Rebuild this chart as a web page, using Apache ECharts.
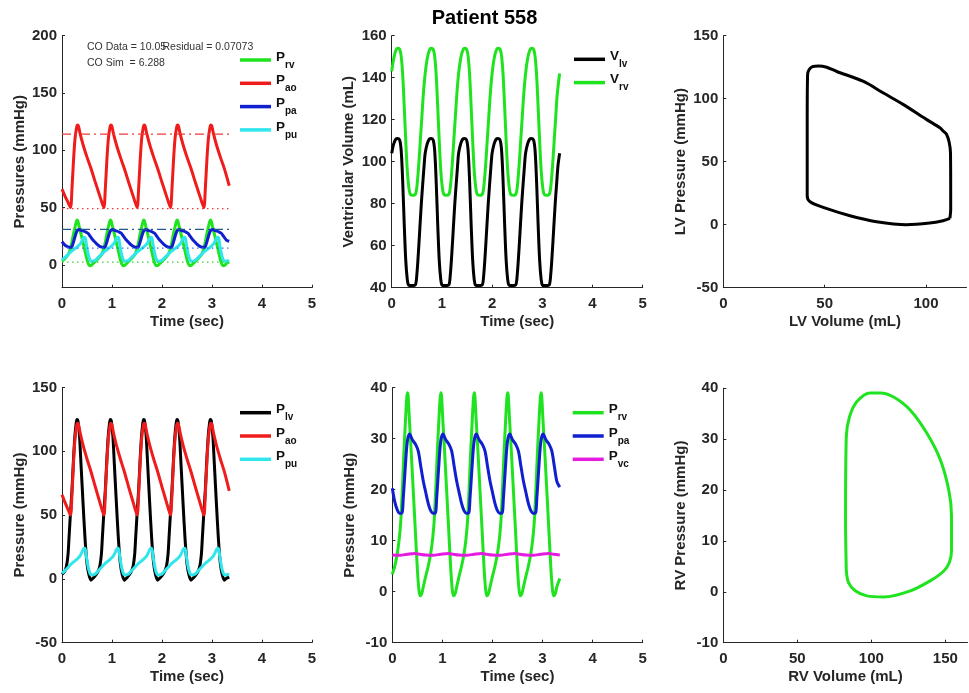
<!DOCTYPE html>
<html><head><meta charset="utf-8">
<script src="https://cdn.jsdelivr.net/npm/echarts@6/dist/echarts.min.js"></script>
<style>html,body{margin:0;padding:0;background:#fff}#c{width:969px;height:693px}</style>
</head><body><div id="c"></div>
<script>
// ---------- DATA (time in s, pressure mmHg, volume mL) ----------
const P_ao = [[0,66],[0.06,60],[0.12,54.5],[0.17,50],[0.2,67],[0.23,91],[0.26,110],[0.29,119.5],[0.31,122],[0.33,121],[0.36,115],[0.42,105],[0.5,94],[0.58,84],
[0.667,72],[0.727,64],[0.787,56],[0.837,50],[0.867,67],[0.897,91],[0.927,110],[0.957,119.5],[0.977,122],[0.997,121],[1.027,115],[1.087,105],[1.167,94],[1.247,84],
[1.333,72],[1.393,64],[1.453,56],[1.503,50],[1.533,67],[1.563,91],[1.593,110],[1.623,119.5],[1.643,122],[1.663,121],[1.693,115],[1.753,105],[1.833,94],[1.913,84],
[2,72],[2.06,64],[2.12,56],[2.17,50],[2.2,67],[2.23,91],[2.26,110],[2.29,119.5],[2.31,122],[2.33,121],[2.36,115],[2.42,105],[2.5,94],[2.58,84],
[2.667,72],[2.727,64],[2.787,56],[2.837,50],[2.867,67],[2.897,91],[2.927,110],[2.957,119.5],[2.977,122],[2.997,121],[3.027,115],[3.087,105],[3.167,94],[3.247,84],[3.345,69]];

const P_lv = [[0,3.5],[0.05,5.5],[0.09,10],[0.12,19],[0.14,32],[0.17,52],[0.2,70],[0.23,94],[0.26,113],[0.285,122.5],[0.3,125],[0.32,123.5],[0.35,112],[0.38,90],[0.42,60],[0.46,32],[0.5,12],[0.54,3],[0.58,-1],[0.62,0.5],
[0.667,2.5],[0.717,5.5],[0.757,10],[0.787,19],[0.807,32],[0.837,52],[0.867,70],[0.897,94],[0.927,113],[0.952,122.5],[0.967,125],[0.987,123.5],[1.017,112],[1.047,90],[1.087,60],[1.127,32],[1.167,12],[1.207,3],[1.247,-1],[1.287,0.5],
[1.333,2.5],[1.383,5.5],[1.423,10],[1.453,19],[1.473,32],[1.503,52],[1.533,70],[1.563,94],[1.593,113],[1.618,122.5],[1.633,125],[1.653,123.5],[1.683,112],[1.713,90],[1.753,60],[1.793,32],[1.833,12],[1.873,3],[1.913,-1],[1.953,0.5],
[2,2.5],[2.05,5.5],[2.09,10],[2.12,19],[2.14,32],[2.17,52],[2.2,70],[2.23,94],[2.26,113],[2.285,122.5],[2.3,125],[2.32,123.5],[2.35,112],[2.38,90],[2.42,60],[2.46,32],[2.5,12],[2.54,3],[2.58,-1],[2.62,0.5],
[2.667,2.5],[2.717,5.5],[2.757,10],[2.787,19],[2.807,32],[2.837,52],[2.867,70],[2.897,94],[2.927,113],[2.952,122.5],[2.967,125],[2.987,123.5],[3.017,112],[3.047,90],[3.087,60],[3.127,32],[3.167,12],[3.207,3],[3.247,-1],[3.287,0.5],[3.345,1.5]];

const P_pu = [[0,4.4],[0.06,6.5],[0.12,9],[0.18,11.5],[0.24,13.5],[0.3,15.5],[0.36,18],[0.4,21],[0.43,23.5],[0.46,24],[0.49,17],[0.53,8],[0.57,3.5],[0.61,3],[0.64,3.5],
[0.667,4],[0.727,6.5],[0.787,9],[0.847,11.5],[0.907,13.5],[0.967,15.5],[1.027,18],[1.067,21],[1.097,23.5],[1.127,24],[1.157,17],[1.197,8],[1.237,3.5],[1.277,3],[1.307,3.5],
[1.333,4],[1.393,6.5],[1.453,9],[1.513,11.5],[1.573,13.5],[1.633,15.5],[1.693,18],[1.733,21],[1.763,23.5],[1.793,24],[1.823,17],[1.863,8],[1.903,3.5],[1.943,3],[1.973,3.5],
[2,4],[2.06,6.5],[2.12,9],[2.18,11.5],[2.24,13.5],[2.3,15.5],[2.36,18],[2.4,21],[2.43,23.5],[2.46,24],[2.49,17],[2.53,8],[2.57,3.5],[2.61,3],[2.64,3.5],
[2.667,4],[2.727,6.5],[2.787,9],[2.847,11.5],[2.907,13.5],[2.967,15.5],[3.027,18],[3.067,21],[3.097,23.5],[3.127,24],[3.157,17],[3.197,8],[3.237,3.5],[3.277,3],[3.307,3.5],[3.345,3.2]];

const P_rv = [[0,3.4],[0.05,5],[0.1,7.5],[0.14,10.5],[0.17,14],[0.2,20],[0.23,27],[0.26,33],[0.285,37.5],[0.3,39],[0.315,38.5],[0.34,34],[0.38,27],[0.42,19.5],[0.46,12],[0.5,4.5],[0.53,0.5],[0.555,-0.8],[0.59,-0.3],[0.62,1],
[0.667,3],[0.717,5],[0.767,7.5],[0.807,10.5],[0.837,14],[0.867,20],[0.897,27],[0.927,33],[0.952,37.5],[0.967,39],[0.982,38.5],[1.007,34],[1.047,27],[1.087,19.5],[1.127,12],[1.167,4.5],[1.197,0.5],[1.222,-0.8],[1.257,-0.3],[1.287,1],
[1.333,3],[1.383,5],[1.433,7.5],[1.473,10.5],[1.503,14],[1.533,20],[1.563,27],[1.593,33],[1.618,37.5],[1.633,39],[1.648,38.5],[1.673,34],[1.713,27],[1.753,19.5],[1.793,12],[1.833,4.5],[1.863,0.5],[1.888,-0.8],[1.923,-0.3],[1.953,1],
[2,3],[2.05,5],[2.1,7.5],[2.14,10.5],[2.17,14],[2.2,20],[2.23,27],[2.26,33],[2.285,37.5],[2.3,39],[2.315,38.5],[2.34,34],[2.38,27],[2.42,19.5],[2.46,12],[2.5,4.5],[2.53,0.5],[2.555,-0.8],[2.59,-0.3],[2.62,1],
[2.667,3],[2.717,5],[2.767,7.5],[2.807,10.5],[2.837,14],[2.867,20],[2.897,27],[2.927,33],[2.952,37.5],[2.967,39],[2.982,38.5],[3.007,34],[3.047,27],[3.087,19.5],[3.127,12],[3.167,4.5],[3.197,0.5],[3.222,-0.8],[3.257,-0.3],[3.287,1],[3.345,2.6]];

const P_pa = [[0,20.3],[0.05,17.6],[0.09,16.3],[0.14,15.4],[0.19,15.4],[0.22,18.5],[0.26,24.5],[0.3,29.5],[0.345,30.9],[0.4,29.8],[0.47,28.8],[0.52,27.5],[0.57,24.5],[0.62,21.6],
[0.667,19.5],[0.717,17.3],[0.757,16.1],[0.807,15.4],[0.857,15.4],[0.887,18.5],[0.927,24.5],[0.967,29.5],[1.012,30.9],[1.067,29.8],[1.137,28.8],[1.187,27.5],[1.237,24.5],[1.287,21.6],
[1.333,19.5],[1.383,17.3],[1.423,16.1],[1.473,15.4],[1.523,15.4],[1.553,18.5],[1.593,24.5],[1.633,29.5],[1.678,30.9],[1.733,29.8],[1.803,28.8],[1.853,27.5],[1.903,24.5],[1.953,21.6],
[2,19.5],[2.05,17.3],[2.09,16.1],[2.14,15.4],[2.19,15.4],[2.22,18.5],[2.26,24.5],[2.3,29.5],[2.345,30.9],[2.4,29.8],[2.47,28.8],[2.52,27.5],[2.57,24.5],[2.62,21.6],
[2.667,19.5],[2.717,17.3],[2.757,16.1],[2.807,15.4],[2.857,15.4],[2.887,18.5],[2.927,24.5],[2.967,29.5],[3.012,30.9],[3.067,29.8],[3.137,28.8],[3.187,27.5],[3.237,24.5],[3.287,21.6],[3.345,20.5]];

const P_vc = [[0,7.2],[0.15,7.15],[0.3,7.35],[0.45,7.5],[0.55,7.35],
[0.667,7.2],[0.817,7.15],[0.967,7.35],[1.117,7.5],[1.217,7.35],
[1.333,7.2],[1.483,7.15],[1.633,7.35],[1.783,7.5],[1.883,7.35],
[2,7.2],[2.15,7.15],[2.3,7.35],[2.45,7.5],[2.55,7.35],
[2.667,7.2],[2.817,7.15],[2.967,7.35],[3.117,7.5],[3.217,7.35],[3.345,7.2]];

const V_lv = [[0,104],[0.04,108.5],[0.08,110.7],[0.12,111],[0.16,110.3],[0.19,105],[0.22,90],[0.25,70],[0.28,53],[0.31,44],[0.335,41.3],[0.4,41],[0.47,41.3],[0.5,46],[0.53,56],[0.56,68],[0.59,80],[0.62,90],[0.645,98],
[0.667,104],[0.707,108.5],[0.747,110.7],[0.787,111],[0.827,110.3],[0.857,105],[0.887,90],[0.917,70],[0.947,53],[0.977,44],[1.002,41.3],[1.067,41],[1.137,41.3],[1.167,46],[1.197,56],[1.227,68],[1.257,80],[1.287,90],[1.312,98],
[1.333,104],[1.373,108.5],[1.413,110.7],[1.453,111],[1.493,110.3],[1.523,105],[1.553,90],[1.583,70],[1.613,53],[1.643,44],[1.668,41.3],[1.733,41],[1.803,41.3],[1.833,46],[1.863,56],[1.893,68],[1.923,80],[1.953,90],[1.978,98],
[2,104],[2.04,108.5],[2.08,110.7],[2.12,111],[2.16,110.3],[2.19,105],[2.22,90],[2.25,70],[2.28,53],[2.31,44],[2.335,41.3],[2.4,41],[2.47,41.3],[2.5,46],[2.53,56],[2.56,68],[2.59,80],[2.62,90],[2.645,98],
[2.667,104],[2.707,108.5],[2.747,110.7],[2.787,111],[2.827,110.3],[2.857,105],[2.887,90],[2.917,70],[2.947,53],[2.977,44],[3.002,41.3],[3.067,41],[3.137,41.3],[3.167,46],[3.197,56],[3.227,68],[3.257,80],[3.287,90],[3.312,98],[3.345,104]];

const V_rv = [[0,143],[0.04,149],[0.08,152.8],[0.12,154],[0.16,153.5],[0.19,150],[0.22,141],[0.25,126],[0.28,110],[0.31,96],[0.34,88],[0.37,84.5],[0.43,84],[0.48,85],[0.51,90],[0.54,99],[0.57,110],[0.6,121],[0.63,132],
[0.667,142],[0.707,149],[0.747,152.8],[0.787,154],[0.827,153.5],[0.857,150],[0.887,141],[0.917,126],[0.947,110],[0.977,96],[1.007,88],[1.037,84.5],[1.097,84],[1.147,85],[1.177,90],[1.207,99],[1.237,110],[1.267,121],[1.297,132],
[1.333,142],[1.373,149],[1.413,152.8],[1.453,154],[1.493,153.5],[1.523,150],[1.553,141],[1.583,126],[1.613,110],[1.643,96],[1.673,88],[1.703,84.5],[1.763,84],[1.813,85],[1.843,90],[1.873,99],[1.903,110],[1.933,121],[1.963,132],
[2,142],[2.04,149],[2.08,152.8],[2.12,154],[2.16,153.5],[2.19,150],[2.22,141],[2.25,126],[2.28,110],[2.31,96],[2.34,88],[2.37,84.5],[2.43,84],[2.48,85],[2.51,90],[2.54,99],[2.57,110],[2.6,121],[2.63,132],
[2.667,142],[2.707,149],[2.747,152.8],[2.787,154],[2.827,153.5],[2.857,150],[2.887,141],[2.917,126],[2.947,110],[2.977,96],[3.007,88],[3.037,84.5],[3.097,84],[3.147,85],[3.177,90],[3.207,99],[3.237,110],[3.267,121],[3.297,132],[3.345,142]];

// PV loops: [volume, pressure]
const LV_loop = [[111.8,5],[112.2,12],[112.2,25],[112.1,57],[111.5,65],[110.2,71.6],[108.6,74.2],[106.9,76.9],[100.4,83.4],[88.9,95.3],[79,104.5],[69.2,113.7],[56,121.6],[51,125],[47,126],[44,125.5],[42.3,123],[41.6,119],[41.4,83],[41.4,23],[42.8,18.2],[49.3,13.7],[62.5,7.1],[75.6,2.4],[90.3,0],[101.8,1.3],[108.4,3.2],[111.8,5]];
const RV_loop = [[83.1,4.1],[82.6,14],[83.1,30.5],[85.3,34.4],[90.3,37.4],[99.3,39.1],[106.1,39.1],[115.1,38.3],[126.4,35.7],[137.7,31.1],[146.7,25.9],[152.4,19.9],[154.2,15],[154.2,8.1],[152.8,5.8],[149,4.1],[140,2.2],[126.4,0.2],[108.3,-1],[97,-0.8],[89.1,0.2],[84.6,1.8],[83.1,4.1]];

// Data reference levels shown in the first panel
const refLevels = [114, 49, 31, 14.5, 2.3];
const refSpan = [0, 3.35];

// Tick values
const ticksP1 = [0,50,100,150,200];
const ticksLVVol = [0,50,100];
const ticksRVVol = [0,50,100,150];

const infoText = ['CO Data = 10.05', 'Residual = 0.07073', 'CO Sim  = 6.288'];

// ---------- CHART ----------
const FONT = '"Liberation Sans", Arial, Helvetica, sans-serif';
const AX = '#262626';
const C = {green:'#1fe31f', red:'#f01c1c', blue:'#1020cf', cyan:'#2ee6ec', black:'#000000', magenta:'#e51ce0'};

const grids = [
  {left:62, top:35.7, width:250, height:252},
  {left:391.7, top:35.7, width:251, height:252},
  {left:723.3, top:35.7, width:243.2, height:252},
  {left:62, top:387.5, width:250, height:255.2},
  {left:392.3, top:387.7, width:250.4, height:255},
  {left:723.3, top:388.3, width:244.2, height:254.4}
];

function axisBase(name, gap) {
  return {
    type:'value', name:name, nameLocation:'middle', nameGap:gap,
    nameTextStyle:{fontFamily:FONT, fontSize:15, fontWeight:'bold', color:AX},
    axisLine:{show:true, onZero:false, lineStyle:{color:AX, width:1}},
    axisTick:{show:true, inside:true, length:3, lineStyle:{color:AX}},
    axisLabel:{fontFamily:FONT, fontSize:15, fontWeight:'bold', color:AX},
    splitLine:{show:false}
  };
}
function xA(gi, min, max, name, interval, custom) {
  const a = axisBase(name, 27);
  a.gridIndex = gi; a.min = min; a.max = max;
  a.axisLabel.margin = 9;
  if (custom) { a.axisLabel.customValues = custom; a.axisTick.customValues = custom; }
  else a.interval = interval;
  return a;
}
function yA(gi, min, max, name, interval, custom) {
  const a = axisBase(name, 35);
  a.gridIndex = gi; a.min = min; a.max = max;
  a.axisLabel.margin = 5;
  if (custom) { a.axisLabel.customValues = custom; a.axisTick.customValues = custom; }
  else a.interval = interval;
  return a;
}

function ln(name, data, color, idx, z) {
  return {name:name, type:'line', data:data, xAxisIndex:idx, yAxisIndex:idx,
    showSymbol:false, symbol:'none', smooth:0.3, color:color,
    lineStyle:{color:color, width:3}, itemStyle:{color:color}, z:z||2, silent:true, animation:false};
}
function ref(v, color, type) {
  return {type:'line', name:'ref'+v, data:[[refSpan[0], v],[refSpan[1], v]], xAxisIndex:0, yAxisIndex:0,
    showSymbol:false, symbol:'none', lineStyle:{color:color, width:1.3, type:type}, z:5, silent:true, animation:false};
}
const dashDot = [9,4,2,4];
const dotted = [1.5,3.5];

function legend(items, left, top) {
  return {
    data:items, orient:'vertical', left:left, top:top, padding:0, itemGap:3.3,
    itemWidth:31, itemHeight:3.5, icon:'rect', selectedMode:false,
    formatter:function(n){ const p = n.split('_'); return '{m|' + p[0] + '}{s|' + p[1] + '}'; },
    textStyle:{ rich:{
      m:{fontFamily:FONT, fontSize:13.5, fontWeight:'bold', color:'#111', lineHeight:14, padding:[0,0,6,0]},
      s:{fontFamily:FONT, fontSize:10, fontWeight:'bold', color:'#111', lineHeight:10, padding:[10,0,0,0]}
    }}
  };
}

const option = {
  animation:false,
  backgroundColor:'#fff',
  title:{text:'Patient 558', left:'center', top:3, textStyle:{fontFamily:FONT, fontSize:20, fontWeight:'bold', color:'#000'}},
  grid:grids,
  xAxis:[
    xA(0,0,5,'Time (sec)',1),
    xA(1,0,5,'Time (sec)',1),
    xA(2,0,120,'LV Volume (mL)',null,ticksLVVol),
    xA(3,0,5,'Time (sec)',1),
    xA(4,0,5,'Time (sec)',1),
    xA(5,0,165,'RV Volume (mL)',null,ticksRVVol)
  ],
  yAxis:[
    yA(0,-20,200,'Pressures (mmHg)',null,ticksP1),
    yA(1,40,160,'Ventricular Volume (mL)',20),
    yA(2,-50,150,'LV Pressure (mmHg)',50),
    yA(3,-50,150,'Pressure (mmHg)',50),
    yA(4,-10,40,'Pressure (mmHg)',10),
    yA(5,-10,40,'RV Pressure (mmHg)',10)
  ],
  legend:[
    legend(['P_rv','P_ao','P_pa','P_pu'], 240, 50),
    legend(['V_lv','V_rv'], 574, 49.3),
    legend(['P_lv','P_ao','P_pu'], 240, 402.7),
    legend(['P_rv','P_pa','P_vc'], 572.7, 402.7)
  ],
  graphic:[
    {type:'text', left:87, top:42, style:{text:infoText[0], font:'10.5px "Liberation Sans", Arial, sans-serif', fill:'#333'}},
    {type:'text', left:162.5, top:42, style:{text:infoText[1], font:'10.5px "Liberation Sans", Arial, sans-serif', fill:'#333'}},
    {type:'text', left:87, top:58, style:{text:infoText[2], font:'10.5px "Liberation Sans", Arial, sans-serif', fill:'#333'}}
  ],
  series:[
    ln('P_rv', P_rv, C.green, 0),
    ln('P_ao', P_ao, C.red, 0),
    ln('P_pa', P_pa, C.blue, 0),
    ln('P_pu', P_pu, C.cyan, 0),
    ref(refLevels[0], '#f03a3a', dashDot),
    ref(refLevels[1], '#f03a3a', dotted),
    ref(refLevels[2], '#1d5a8a', dashDot),
    ref(refLevels[3], '#3a78d8', dotted),
    ref(refLevels[4], '#3ad03a', dotted),
    ln('V_lv', V_lv, C.black, 1),
    ln('V_rv', V_rv, C.green, 1),
    ln('LV loop', LV_loop, C.black, 2),
    ln('P_lv', P_lv, C.black, 3),
    ln('P_ao', P_ao, C.red, 3),
    ln('P_pu', P_pu, C.cyan, 3),
    ln('P_rv', P_rv, C.green, 4),
    ln('P_pa', P_pa, C.blue, 4),
    ln('P_vc', P_vc, C.magenta, 4),
    ln('RV loop', RV_loop, C.green, 5)
  ]
};
const chart = echarts.init(document.getElementById('c'));
chart.setOption(option);
</script>
</body></html>
